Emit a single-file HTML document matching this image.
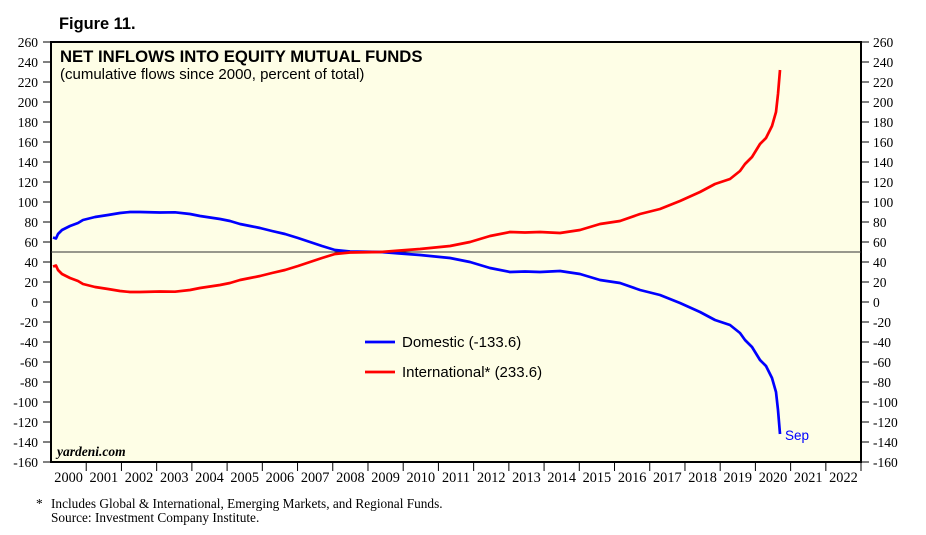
<!DOCTYPE html>
<html><head><meta charset="utf-8"><style>
body{margin:0;background:#fff;}
svg{display:block;}
</style></head><body>
<svg width="926" height="535" xmlns="http://www.w3.org/2000/svg" font-family="Liberation Serif, serif">
<rect width="926" height="535" fill="#fff"/>
<text x="59" y="29" font-family="Liberation Sans, sans-serif" font-weight="bold" font-size="16.4">Figure 11.</text>
<rect x="51" y="42" width="810" height="420" fill="#fefee6" stroke="#000" stroke-width="2"/>
<line x1="51" y1="252" x2="861" y2="252" stroke="#333" stroke-width="1"/>
<g id="ticks" stroke="#000" stroke-width="1"></g>
<g id="ylab" font-size="13.5"></g>
<text x="60" y="62" font-family="Liberation Sans, sans-serif" font-weight="bold" font-size="16.7">NET INFLOWS INTO EQUITY MUTUAL FUNDS</text>
<text x="60" y="79" font-family="Liberation Sans, sans-serif" font-size="15">(cumulative flows since 2000, percent of total)</text>
<text x="57" y="456" font-weight="bold" font-style="italic" font-size="13.5">yardeni.com</text>
<polyline id="blue" fill="none" stroke="#0000ff" stroke-width="2.7" stroke-linejoin="round"/>
<polyline id="red" fill="none" stroke="#ff0000" stroke-width="2.7" stroke-linejoin="round"/>
<line x1="365" y1="342" x2="395" y2="342" stroke="#0000ff" stroke-width="2.7"/>
<line x1="365" y1="372" x2="395" y2="372" stroke="#ff0000" stroke-width="2.7"/>
<text x="402" y="347" font-family="Liberation Sans, sans-serif" font-size="15">Domestic (-133.6)</text>
<text x="402" y="377" font-family="Liberation Sans, sans-serif" font-size="15">International* (233.6)</text>
<text x="785" y="440" font-family="Liberation Sans, sans-serif" font-size="13.5" fill="#0000ff">Sep</text>
<g id="xlab" font-size="14.3"></g>
<text x="36" y="508" font-size="13.3">*</text>
<text x="51" y="508" font-size="13.3">Includes Global &amp; International, Emerging Markets, and Regional Funds.</text>
<text x="51" y="522" font-size="13.3">Source: Investment Company Institute.</text>
</svg>
<script>
var ns="http://www.w3.org/2000/svg";
function el(t,a,p,txt){var e=document.createElementNS(ns,t);for(var k in a)e.setAttribute(k,a[k]);if(txt!=null)e.textContent=txt;document.getElementById(p).appendChild(e);}
for(var v=-160;v<=260;v+=20){var y=302-v;
el('line',{x1:43,y1:y,x2:51,y2:y},'ticks');el('line',{x1:861,y1:y,x2:869,y2:y},'ticks');
el('text',{x:38,y:y+5,'text-anchor':'end'},'ylab',String(v));
el('text',{x:873,y:y+5},'ylab',String(v));}
for(var i=0;i<23;i++){var x0=51+i*35.22;
if(i>0)el('line',{x1:x0,y1:462,x2:x0,y2:471},'ticks');
el('text',{x:x0+17.6,y:482,'text-anchor':'middle'},'xlab',String(2000+i));}
el('line',{x1:861,y1:462,x2:861,y2:471},'ticks');
var b=[[53,237.5],[56,238.5],[58,234],[62,230],[70,226],[78,223],[83,220],[95,217],[108,215],[120,213],[130,212],[140,212],[160,212.5],[175,212.3],[190,214],[200,216],[210,217.5],[220,219],[230,221],[240,224],[250,226],[260,228],[272,231],[285,234],[298,238],[310,242],[322,246],[335,250],[350,251.5],[380,252],[400,253.5],[420,255],[450,258],[470,262],[490,268],[510,272],[525,271.5],[540,272],[560,271],[580,274],[600,280],[620,283],[640,290],[660,295],[680,303],[700,312],[715,320],[730,325],[740,333],[745,340],[752,347],[760,360],[766,366],[772,378],[776,392],[778,410],[780,434]];
document.getElementById('blue').setAttribute('points',b.map(function(p){return p[0]+','+p[1]}).join(' '));
document.getElementById('red').setAttribute('points',b.map(function(p){return p[0]+','+(504-p[1])}).join(' '));
</script>
</body></html>
